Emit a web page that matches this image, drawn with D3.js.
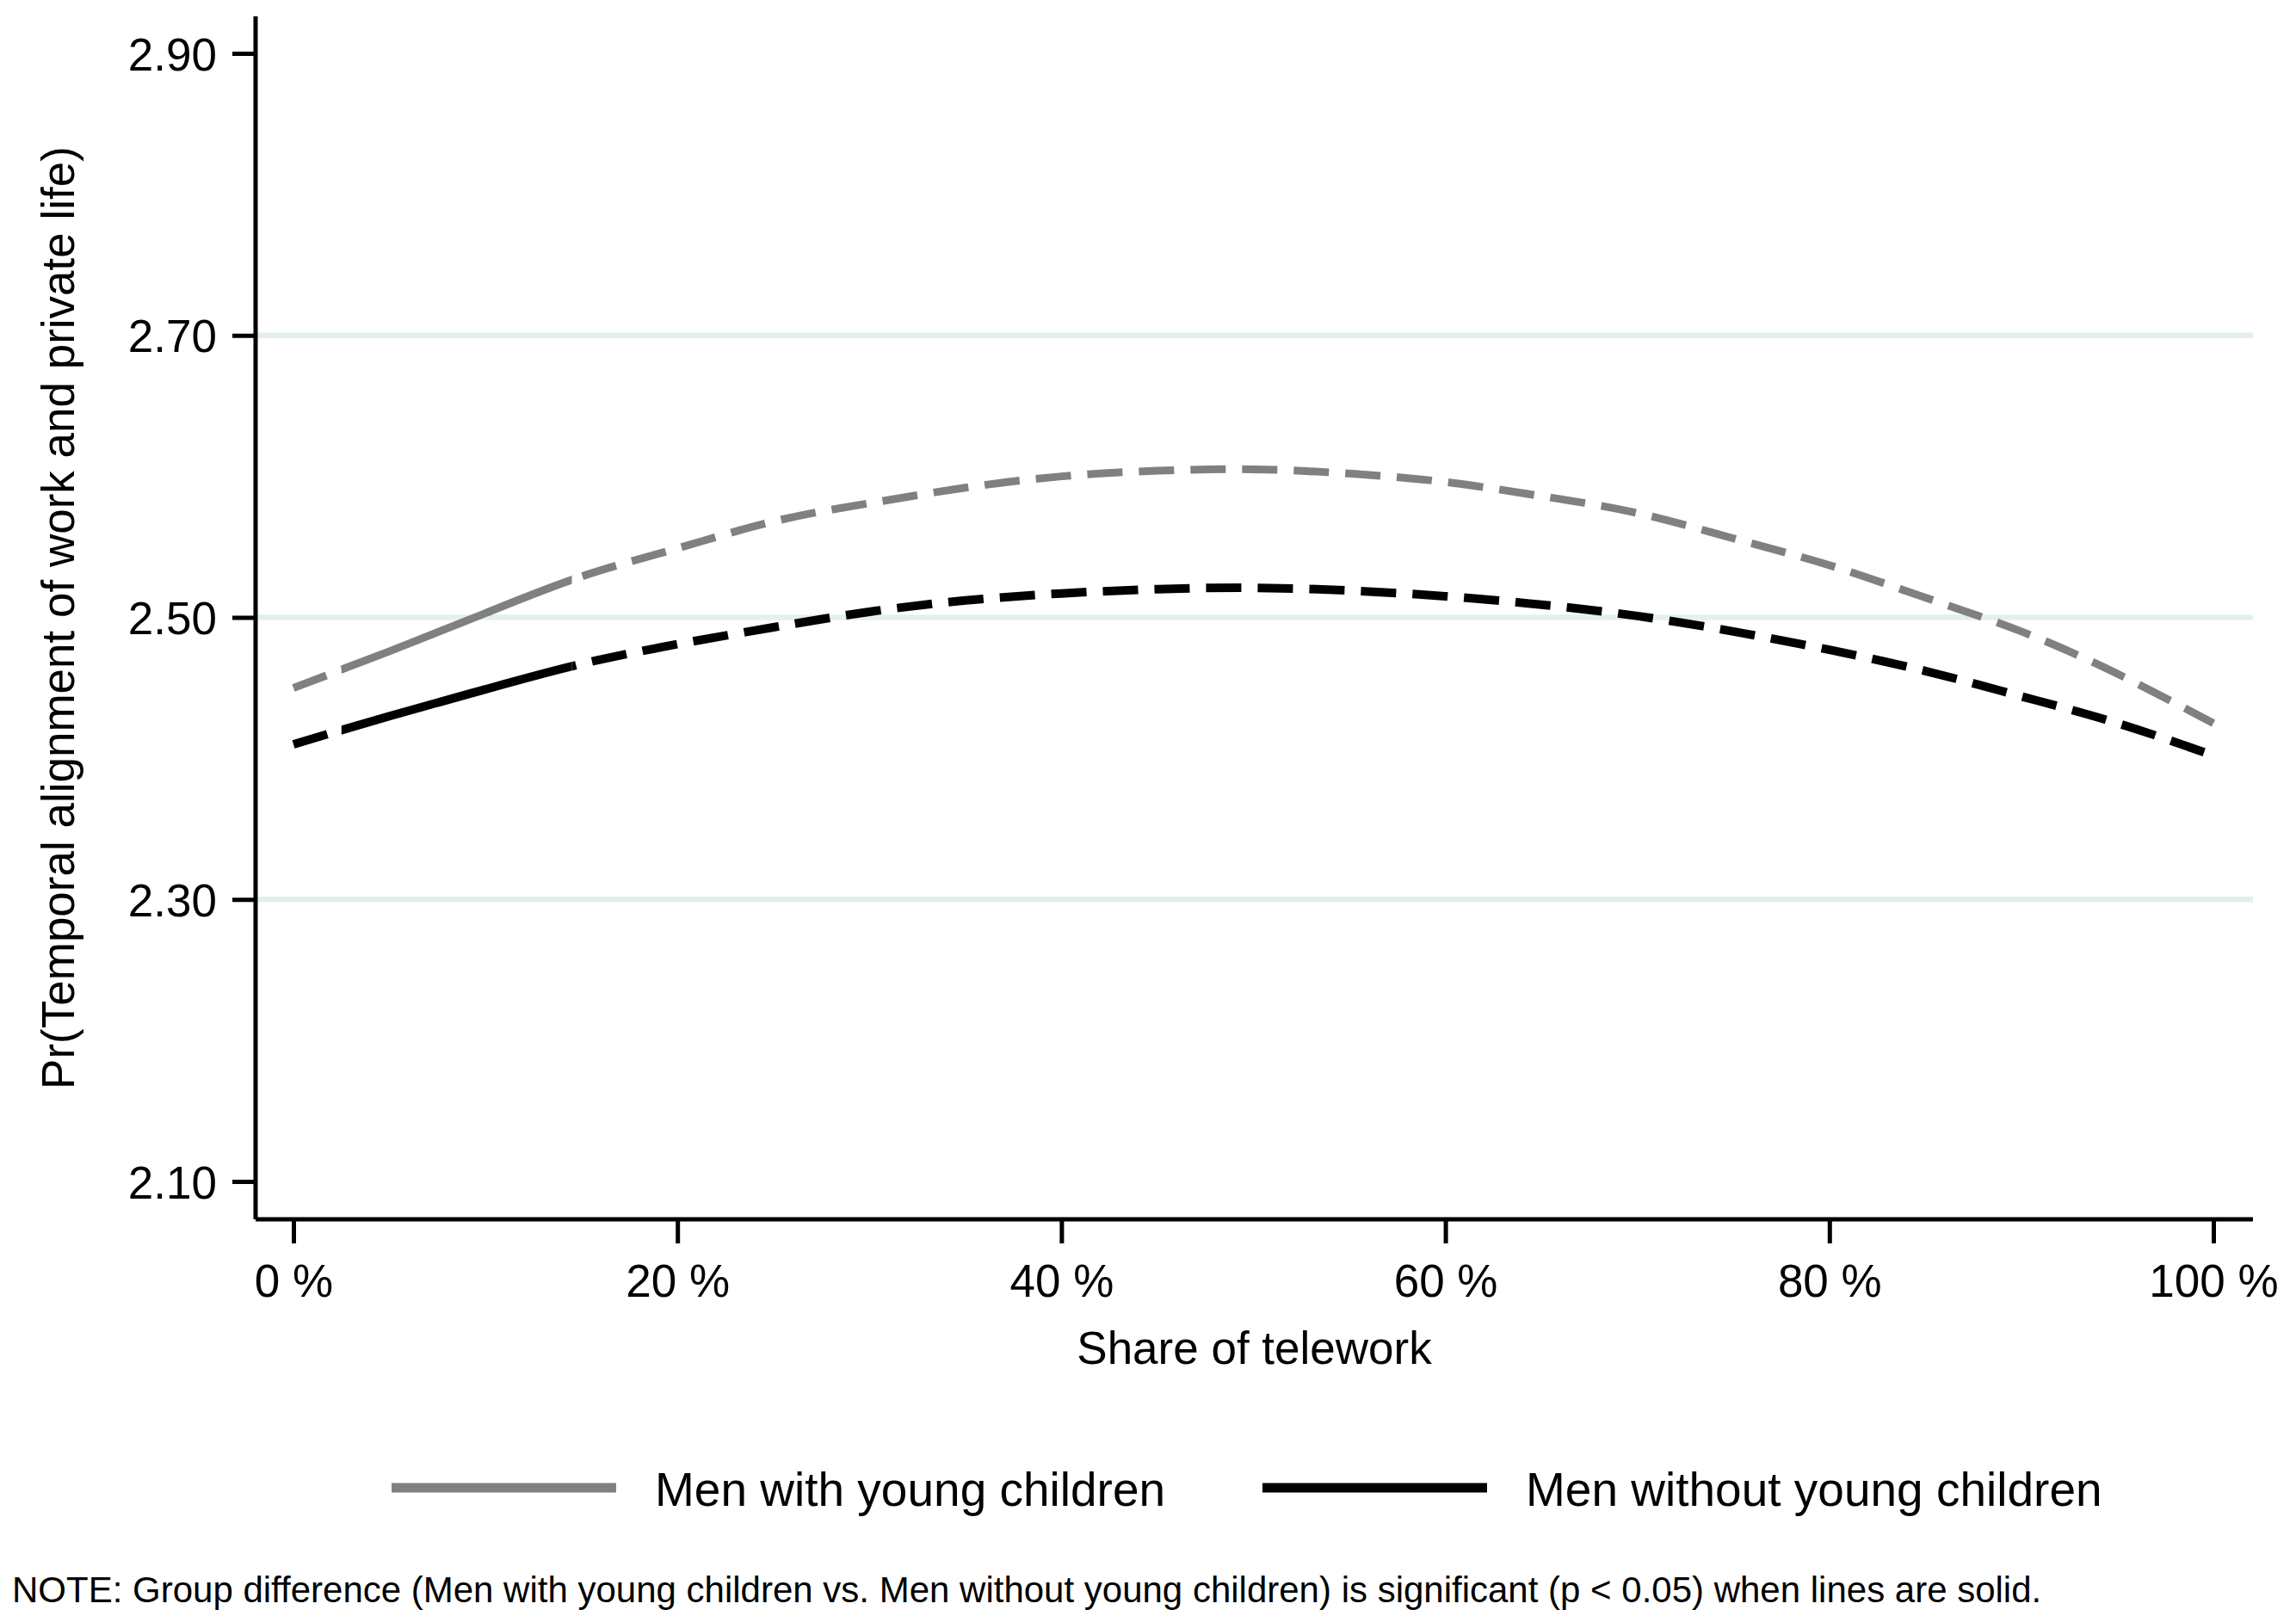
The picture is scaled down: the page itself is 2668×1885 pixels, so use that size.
<!DOCTYPE html>
<html>
<head>
<meta charset="utf-8">
<script src="https://cdn.jsdelivr.net/npm/d3@7"></script>
<style>
  body { margin: 0; background: #fff; }
  text { font-family: "Liberation Sans", Arial, sans-serif; fill: #000; }
</style>
</head>
<body>
<svg width="2668" height="1885"></svg>
<script>
// values
const share = [0, 5, 10, 15, 20, 25, 30, 35, 40, 45, 50, 55, 60, 65, 70, 75, 80, 85, 90, 95, 100];
const withKids = [2.450, 2.476, 2.503, 2.529, 2.549, 2.568, 2.581, 2.592, 2.600, 2.604, 2.605,
                  2.602, 2.596, 2.586, 2.574, 2.556, 2.537, 2.514, 2.490, 2.460, 2.425];
const withoutKids = [2.410, 2.430, 2.449, 2.467, 2.481, 2.493, 2.504, 2.512, 2.517, 2.520, 2.521,
                     2.519, 2.515, 2.509, 2.501, 2.490, 2.477, 2.462, 2.444, 2.425, 2.402];
const sigRange = [2.5, 14.5];   // share where the group difference is significant
const yTicks = [2.10, 2.30, 2.50, 2.70, 2.90];
const gridTicks = [2.30, 2.50, 2.70];
const xTicks = [0, 20, 40, 60, 80, 100];
const seriesNames = ["Men with young children", "Men without young children"];
const seriesColors = ["#808080", "#000000"];
const seriesWidths = [9, 10];

const svg = d3.select("svg");

const plotLeft = 297, plotRight = 2618, plotTop = 19, plotBottom = 1417;

const x = d3.scaleLinear().domain([0, 100]).range([341, 2572]);
const y = d3.scaleLinear().domain([2.10, 2.90]).range([1373, 62]);

// grid lines
svg.append("g")
    .selectAll("line")
    .data(gridTicks)
    .join("line")
    .attr("x1", plotLeft)
    .attr("x2", plotRight)
    .attr("y1", d => y(d))
    .attr("y2", d => y(d))
    .attr("stroke", "#e4efef")
    .attr("stroke-width", 6.5);

// clip regions for solid / dashed parts
const defs = svg.append("defs");
defs.append("clipPath").attr("id", "sigClip")
    .append("rect")
    .attr("x", x(sigRange[0]))
    .attr("y", 0)
    .attr("width", x(sigRange[1]) - x(sigRange[0]))
    .attr("height", 1885);
const notSig = defs.append("clipPath").attr("id", "nsClip");
notSig.append("rect")
    .attr("x", 0).attr("y", 0)
    .attr("width", x(sigRange[0])).attr("height", 1885);
notSig.append("rect")
    .attr("x", x(sigRange[1])).attr("y", 0)
    .attr("width", 2668 - x(sigRange[1])).attr("height", 1885);

const line = d3.line()
    .x(d => x(d[0]))
    .y(d => y(d[1]))
    .curve(d3.curveNatural);

const series = [withKids, withoutKids];
series.forEach((vals, i) => {
    const pts = share.map((s, k) => [s, vals[k]]);
    svg.append("path")
        .attr("d", line(pts))
        .attr("fill", "none")
        .attr("stroke", seriesColors[i])
        .attr("stroke-width", seriesWidths[i])
        .attr("stroke-dasharray", "41,19")
        .attr("clip-path", "url(#nsClip)");
    svg.append("path")
        .attr("d", line(pts))
        .attr("fill", "none")
        .attr("stroke", seriesColors[i])
        .attr("stroke-width", seriesWidths[i])
        .attr("clip-path", "url(#sigClip)");
});

// y axis
const yAxis = svg.append("g").attr("transform", `translate(${plotLeft},0)`)
    .call(d3.axisLeft(y).tickValues(yTicks).tickSize(27).tickPadding(18)
        .tickFormat(d3.format(".2f")));
yAxis.select(".domain").attr("d", `M0,${plotTop}V${plotBottom}`)
    .attr("stroke", "#000").attr("stroke-width", 5);
yAxis.selectAll(".tick line").attr("stroke", "#000").attr("stroke-width", 5);
yAxis.selectAll(".tick text")
    .attr("font-size", 53)
    .attr("font-family", "'Liberation Sans', Arial, sans-serif")
    .attr("dy", "0.36em");

// x axis
const xAxis = svg.append("g").attr("transform", `translate(0,${plotBottom})`)
    .call(d3.axisBottom(x).tickValues(xTicks).tickSize(28).tickPadding(24)
        .tickFormat(d => d + " %"));
xAxis.select(".domain").attr("d", `M${plotLeft},0H${plotRight}`)
    .attr("stroke", "#000").attr("stroke-width", 5);
xAxis.selectAll(".tick line").attr("stroke", "#000").attr("stroke-width", 5);
xAxis.selectAll(".tick text")
    .attr("font-size", 53)
    .attr("font-family", "'Liberation Sans', Arial, sans-serif");

// axis titles
svg.append("text")
    .attr("x", (plotLeft + plotRight) / 2)
    .attr("y", 1585)
    .attr("text-anchor", "middle")
    .attr("font-size", 53)
    .text("Share of telework");

svg.append("text")
    .attr("transform", `translate(86,${(plotTop + plotBottom) / 2}) rotate(-90)`)
    .attr("text-anchor", "middle")
    .attr("font-size", 53)
    .text("Pr(Temporal alignment of work and private life)");

// legend
const legendX = [455, 1467];
seriesNames.forEach((name, i) => {
    svg.append("line")
        .attr("x1", legendX[i])
        .attr("x2", legendX[i] + 261)
        .attr("y1", 1729)
        .attr("y2", 1729)
        .attr("stroke", seriesColors[i])
        .attr("stroke-width", 11);
    svg.append("text")
        .attr("x", legendX[i] + 306)
        .attr("y", 1750)
        .attr("font-size", 55)
        .text(name);
});

// note
svg.append("text")
    .attr("x", 14)
    .attr("y", 1862)
    .attr("font-size", 42)
    .text("NOTE: Group difference (Men with young children vs. Men without young children) is significant (p < 0.05) when lines are solid.");
</script>
</body>
</html>
